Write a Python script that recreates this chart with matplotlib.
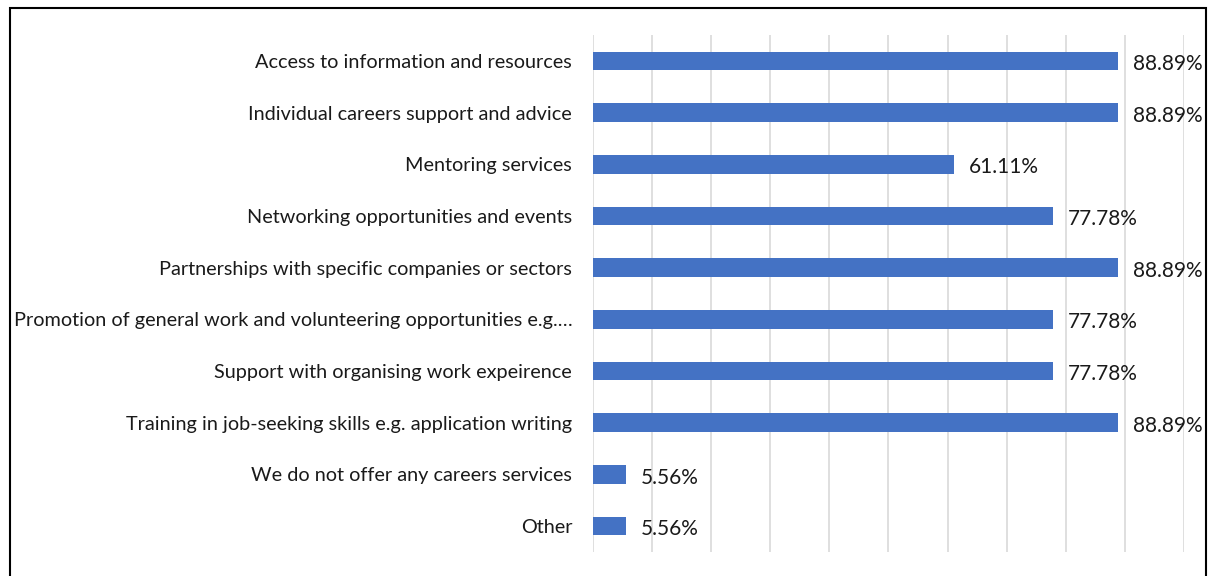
import matplotlib
matplotlib.use("Agg")
import matplotlib.pyplot as plt
from matplotlib.patches import Rectangle

services = [
    "Access to information and resources",
    "Individual careers support and advice",
    "Mentoring services",
    "Networking opportunities and events",
    "Partnerships with specific companies or sectors",
    "Promotion of general work and volunteering opportunities e.g.…",
    "Support with organising work expeirence",
    "Training in job-seeking skills e.g. application writing",
    "We do not offer any careers services",
    "Other",
]
share_pct = [88.89, 88.89, 61.11, 77.78, 88.89, 77.78, 77.78, 88.89, 5.56, 5.56]

BAR = "#4472C4"
GRID = "#D9D9D9"

plt.rcParams.update({"font.family": ["Lato", "DejaVu Sans"]})

fig = plt.figure(figsize=(12.08, 5.76), dpi=100)
ax = fig.add_axes([593 / 1208, 1 - 552 / 576, 591 / 1208, 517 / 576])

y = list(range(len(services)))
ax.barh(y, share_pct, height=0.36, color=BAR, zorder=2)
for yi, v in zip(y, share_pct):
    ax.text(v + 2.5, yi + 0.06, f"{v:.2f}%", va="center", ha="left",
            fontsize=15, color="#1a1a1a", zorder=3)

ax.set_xlim(0, 100)
ax.set_ylim(len(services) - 0.5, -0.5)
ax.set_xticks(range(0, 101, 10))
ax.set_xticklabels([])
ax.set_yticks(y)
ax.set_yticklabels(services, fontsize=14.3, color="#1a1a1a")
ax.tick_params(axis="both", length=0)
ax.tick_params(axis="y", pad=15)
ax.xaxis.grid(True, color=GRID, linewidth=1.2, zorder=0)
for sp in ax.spines.values():
    sp.set_visible(False)

# chart frame
fig.patches.append(Rectangle((10 / 1208, -0.05), 1196 / 1208, 1.05 - 8 / 576,
                             transform=fig.transFigure, fill=False,
                             edgecolor="black", linewidth=1.5))

fig.savefig("out.png", dpi=100)
